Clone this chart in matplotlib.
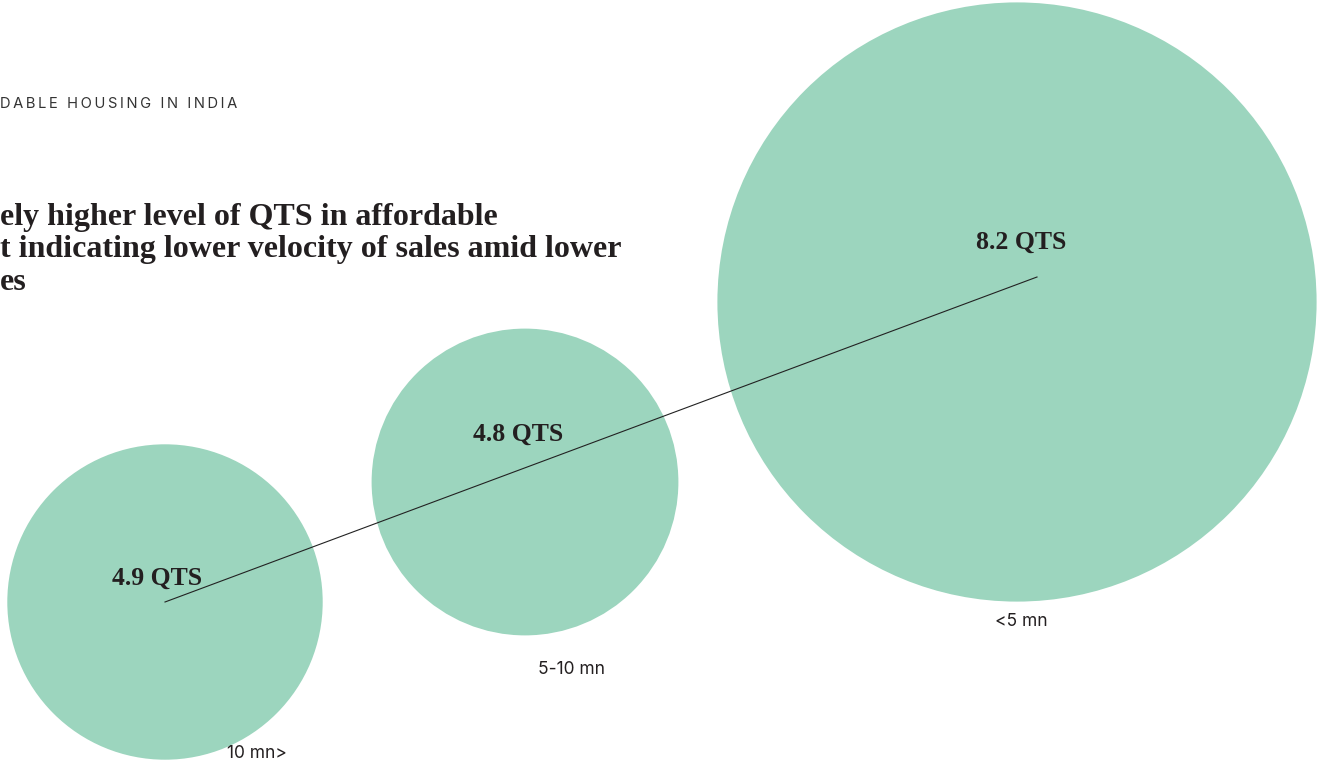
import matplotlib.pyplot as plt
from matplotlib.patches import Circle

# Ticket-size segments and their quarters-to-sell (QTS)
segmentos = ['10 mn>', '5-10 mn', '<5 mn']
qts = [4.9, 4.8, 8.2]

# Posicio de cada bombolla (en pixels de la figura)
centres_x = [165, 525, 1017]
centres_y = [602, 482, 302]
# Posicio de les etiquetes
etiqueta_qts = [(157, 578), (518, 434), (1021, 242)]
etiqueta_seg = [(257, 754), (572, 670), (1021, 622)]


def radi(v):
    # escala lineal entre el valor de QTS i el radi de la bombolla
    return 43.0 * v - 53


fig = plt.figure(figsize=(13.25, 7.69), dpi=100)
ax = fig.add_axes([0, 0, 1, 1])
ax.set_xlim(0, 1325)
ax.set_ylim(769, 0)
ax.set_aspect('equal')
ax.axis('off')

verd = '#9cd5be'
for x, y, v in zip(centres_x, centres_y, qts):
    ax.add_patch(Circle((x, y), radi(v), color=verd, lw=0, zorder=1))

# Linia de tendencia entre el primer i l'ultim segment
ax.plot([centres_x[0], 1037], [centres_y[0], 277], color='#222222', lw=0.8, zorder=2)

for (x, y), v in zip(etiqueta_qts, qts):
    ax.text(x, y, f'{v} QTS', ha='center', va='center', fontsize=18.5,
            fontfamily='Liberation Serif', fontweight='bold', color='#231f20', zorder=3)

for (x, y), s in zip(etiqueta_seg, segmentos):
    ax.text(x, y, s, ha='center', va='center', fontsize=12.5,
            fontfamily='Inter', color='#231f20', zorder=3)

# Capcalera amb lletres espaiades
capcalera = 'DABLE HOUSING IN INDIA'
ax.text(0, 104, '\u2009'.join(capcalera), ha='left', va='center', fontsize=10.6,
        fontfamily='Inter', color='#333333')

titol = ['ely higher level of QTS in affordable',
         't indicating lower velocity of sales amid lower',
         'es']
for i, linia in enumerate(titol):
    ax.text(0, 217 + i * 33, linia, ha='left', va='center', fontsize=23,
            fontfamily='Liberation Serif', fontweight='bold', color='#231f20')

fig.savefig('out.png', dpi=100)
